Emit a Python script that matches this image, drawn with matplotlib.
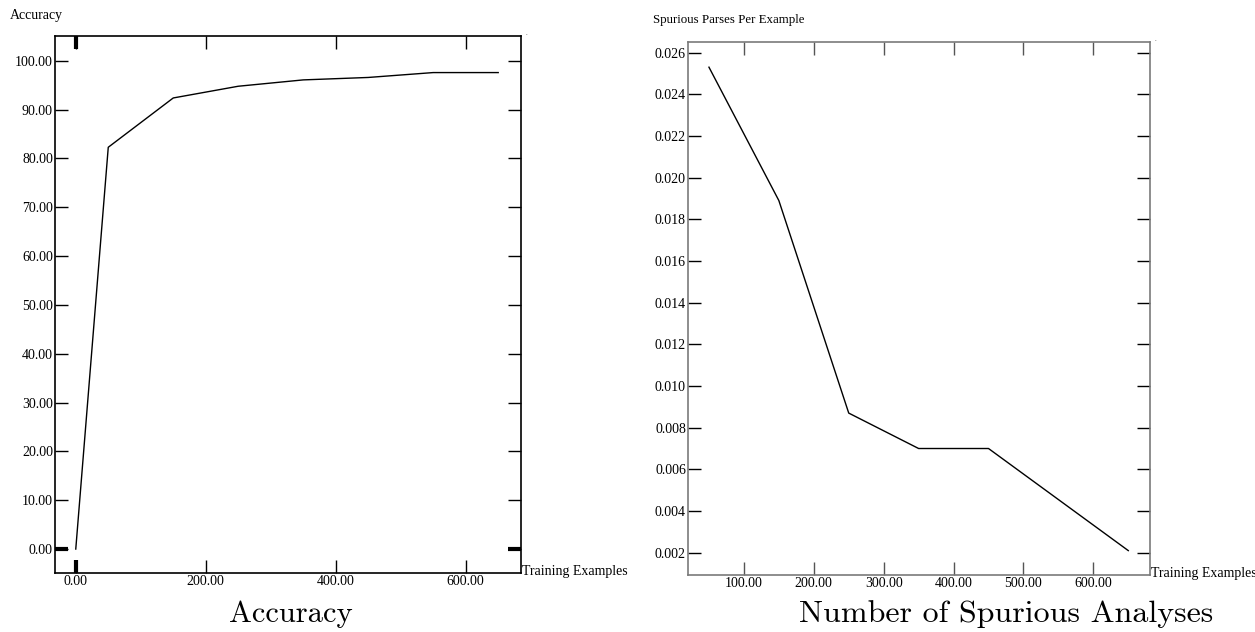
import numpy as np
import matplotlib
matplotlib.use("Agg")
import matplotlib.pyplot as plt

# data
acc_x = [0, 50, 150, 250, 350, 450, 550, 650]
acc_y = [0.0, 82.3, 92.4, 94.8, 96.1, 96.6, 97.6, 97.6]

spur_x = [50, 150, 250, 350, 450, 650]
spur_y = [0.0253, 0.0189, 0.0087, 0.0070, 0.0070, 0.0021]

acc_xticks = [0, 200, 400, 600]
acc_yticks = [0, 10, 20, 30, 40, 50, 60, 70, 80, 90, 100]
spur_xticks = [100, 200, 300, 400, 500, 600]
spur_yticks = [0.002, 0.004, 0.006, 0.008, 0.010, 0.012, 0.014,
               0.016, 0.018, 0.020, 0.022, 0.024, 0.026]

SERIF = "Liberation Serif"
TICK_LEN = 9.4

fig = plt.figure(figsize=(12.55, 6.32), dpi=100)


def style_axes(ax, spine_color, xtick_color):
    for s in ax.spines.values():
        s.set_color(spine_color)
        s.set_linewidth(1.2)
    ax.tick_params(axis="both", which="both", direction="in", length=TICK_LEN,
                   top=True, right=True, labelsize=10, pad=1.5)
    ax.tick_params(axis="x", which="major", color=xtick_color, width=1.0)
    ax.tick_params(axis="y", which="major", color="black", width=1.0)
    for lbl in ax.get_xticklabels() + ax.get_yticklabels():
        lbl.set_fontfamily(SERIF)


# left: accuracy
ax1 = fig.add_axes([0.0438, 0.0934, 0.3713, 0.8497])
ax1.plot(acc_x, acc_y, color="black", lw=1.0)
ax1.set_xlim(-32, 685)
ax1.set_ylim(-4.9, 105.1)
ax1.set_xticks(acc_xticks)
ax1.set_xticklabels([f"{v:.2f}" for v in acc_xticks])
ax1.set_yticks(acc_yticks)
ax1.set_yticklabels([f"{v:.2f}" for v in acc_yticks])
style_axes(ax1, "black", "black")
# heavy ticks at zero
ax1.xaxis.remove_overlapping_locs = False
ax1.yaxis.remove_overlapping_locs = False
ax1.set_xticks([0], minor=True)
ax1.set_yticks([0], minor=True)
ax1.tick_params(which="minor", width=3, length=TICK_LEN, color="black",
                labelbottom=False, labelleft=False)

# right: spurious parses
ax2 = fig.add_axes([0.5482, 0.0902, 0.3681, 0.8434])
ax2.plot(spur_x, spur_y, color="black", lw=1.0)
ax2.set_xlim(20, 681)
ax2.set_ylim(0.00093, 0.02651)
ax2.set_xticks(spur_xticks)
ax2.set_xticklabels([f"{v:.2f}" for v in spur_xticks])
ax2.set_yticks(spur_yticks)
ax2.set_yticklabels([f"{v:.3f}" for v in spur_yticks])
style_axes(ax2, "#7a7a7a", "#555555")

# axis captions in the corners
fig.text(10 / 1255, 1 - 15 / 632, "Accuracy", family=SERIF, fontsize=10,
         ha="left", va="center")
fig.text(653 / 1255, 1 - 20 / 632, "Spurious Parses Per Example", family=SERIF,
         fontsize=9.3, ha="left", va="center")
fig.text(522 / 1255, 1 - 572 / 632, "Training Examples", family=SERIF,
         fontsize=10, ha="left", va="center")
fig.text(1151 / 1255, 1 - 574 / 632, "Training Examples", family=SERIF,
         fontsize=10, ha="left", va="center")
fig.text(526 / 1255, 1 - 36 / 632, ".", fontsize=4, ha="center", va="bottom")
fig.text(1155 / 1255, 1 - 42 / 632, ".", fontsize=4, ha="center", va="bottom")

# titles under each panel
fig.text(291 / 1255, 1 - 614 / 632, "Accuracy", family="cmr10", fontsize=22,
         ha="center", va="center")
fig.text(1006 / 1255, 1 - 614 / 632, "Number of Spurious Analyses",
         family="cmr10", fontsize=23, ha="center", va="center")

fig.savefig("out.png", dpi=100)
